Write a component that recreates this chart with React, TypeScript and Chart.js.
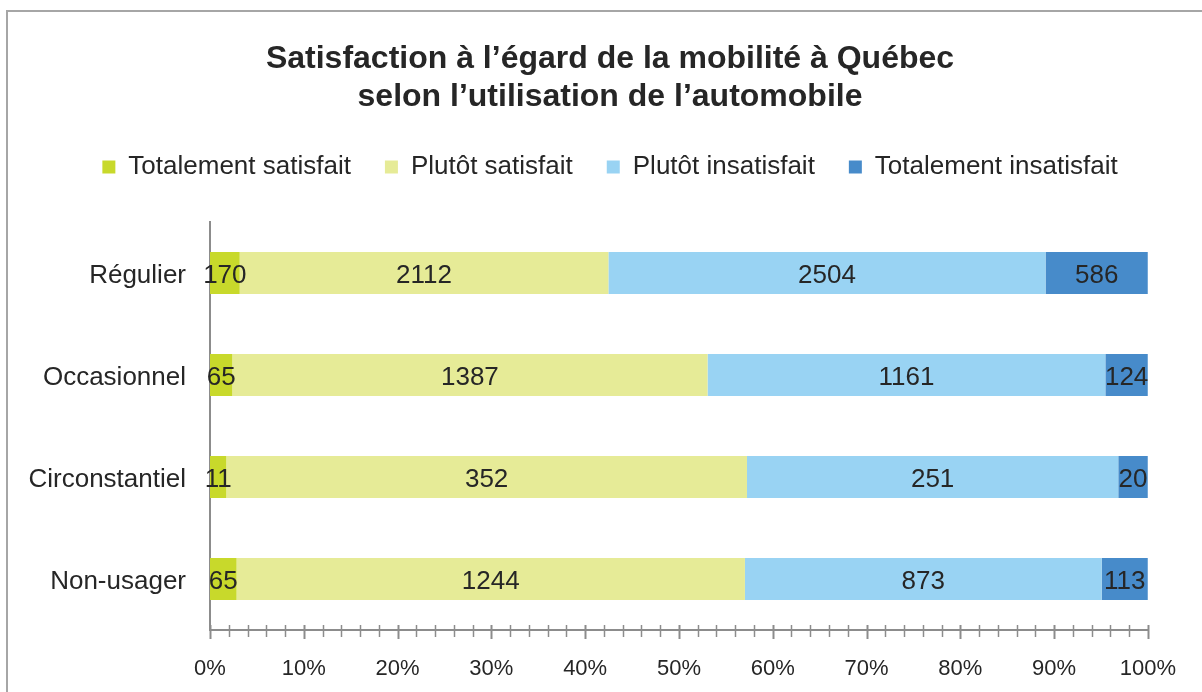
import React, { useEffect, useRef } from "react";
import { Chart, registerables } from "chart.js";

Chart.register(...registerables);

const categories = ["Régulier", "Occasionnel", "Circonstantiel", "Non-usager"];
const seriesNames = [
  "Totalement satisfait",
  "Plutôt satisfait",
  "Plutôt insatisfait",
  "Totalement insatisfait",
];
const totalementSatisfait = [170, 65, 11, 65];
const plutotSatisfait = [2112, 1387, 352, 1244];
const plutotInsatisfait = [2504, 1161, 251, 873];
const totalementInsatisfait = [586, 124, 20, 113];
const seriesColors = ["#C8D92B", "#E6EB97", "#99D3F3", "#478BCA"];
const xTickValues = [0, 10, 20, 30, 40, 50, 60, 70, 80, 90, 100];
const minorTickStep = 2;

const FONT = "'Liberation Sans', Arial, sans-serif";
const TEXT = "#262626";

const frameAndTicks = {
  id: "frameAndTicks",
  beforeDraw(chart: any) {
    const ctx = chart.ctx;
    ctx.save();
    ctx.strokeStyle = "#a6a6a6";
    ctx.lineWidth = 2;
    ctx.beginPath();
    ctx.moveTo(7, chart.height + 5);
    ctx.lineTo(7, 11);
    ctx.lineTo(chart.width + 5, 11);
    ctx.stroke();
    ctx.restore();
  },
  afterDraw(chart: any) {
    const ctx = chart.ctx;
    const sx = chart.scales.x;
    const yb = chart.chartArea.bottom;
    ctx.save();
    ctx.strokeStyle = "#8c8c8c";
    for (let v = sx.min; v <= sx.max + 1e-9; v += minorTickStep) {
      const px = Math.round(sx.getPixelForValue(v)) + 0.5;
      const major = xTickValues.includes(Math.round(v));
      ctx.lineWidth = major ? 2 : 1.5;
      ctx.beginPath();
      ctx.moveTo(px, yb - 5);
      ctx.lineTo(px, yb + (major ? 9 : 7));
      ctx.stroke();
    }
    ctx.restore();
  },
};

const dataLabels = {
  id: "dataLabels",
  afterDatasetsDraw(chart: any) {
    const ctx = chart.ctx;
    ctx.save();
    ctx.font = `26px ${FONT}`;
    ctx.fillStyle = TEXT;
    ctx.textAlign = "center";
    ctx.textBaseline = "middle";
    chart.data.datasets.forEach((ds: any, i: number) => {
      const meta = chart.getDatasetMeta(i);
      meta.data.forEach((el: any, j: number) => {
        const cx = (el.x + el.base) / 2;
        ctx.fillText(String(ds.counts[j]), cx, el.y + 3);
      });
    });
    ctx.restore();
  },
};

export default function App() {
  const ref = useRef<HTMLCanvasElement>(null);
  useEffect(() => {
    if (!ref.current) return;
    const allSeries = [
      totalementSatisfait,
      plutotSatisfait,
      plutotInsatisfait,
      totalementInsatisfait,
    ];
    const totals = categories.map((_, j) =>
      allSeries.reduce((s, arr) => s + arr[j], 0)
    );
    const chart = new Chart(ref.current, {
      type: "bar",
      data: {
        labels: categories,
        datasets: allSeries.map((arr, i) => ({
          label: seriesNames[i],
          data: arr.map((v, j) => (v / totals[j]) * 100),
          counts: arr,
          backgroundColor: seriesColors[i],
          borderWidth: 0,
          barPercentage: 0.41,
          categoryPercentage: 1,
        })) as any,
      },
      options: {
        indexAxis: "y",
        animation: false,
        responsive: false,
        layout: { padding: { left: 20, right: 2, top: 0, bottom: 0 } },
        plugins: {
          tooltip: { enabled: false },
          title: {
            display: true,
            text: [
              "Satisfaction à l’égard de la mobilité à Québec",
              "selon l’utilisation de l’automobile",
            ],
            color: TEXT,
            font: { family: FONT, size: 32, weight: "bold", lineHeight: 38 / 32 },
            padding: { top: 40, bottom: 4 },
          },
          subtitle: {
            display: true,
            text: "",
            weight: 500,
            font: { size: 1, lineHeight: 1 },
            padding: { top: 0, bottom: 31 },
          } as any,
          legend: {
            display: true,
            position: "top",
            labels: {
              boxWidth: 13,
              boxHeight: 13,
              padding: 34,
              color: TEXT,
              font: { family: FONT, size: 26 },
            },
          },
        },
        scales: {
          x: {
            type: "linear",
            stacked: true,
            min: 0,
            max: 100,
            afterFit(scale: any) {
              scale.height = 62;
            },
            afterBuildTicks(scale: any) {
              scale.ticks = xTickValues.map((v) => ({ value: v }));
            },
            ticks: {
              color: TEXT,
              padding: 26,
              font: { family: FONT, size: 22 },
              callback: (v: any) => `${v}%`,
            },
            grid: { display: false, drawTicks: false },
            border: { display: true, color: "#8c8c8c", width: 2 },
          },
          y: {
            stacked: true,
            afterFit(scale: any) {
              scale.width = 190;
            },
            ticks: {
              color: TEXT,
              padding: 24,
              labelOffset: 3,
              font: { family: FONT, size: 26 },
            },
            grid: { display: false, drawTicks: false },
            border: { display: true, color: "#8c8c8c", width: 2 },
          },
          rightSpace: {
            type: "linear",
            position: "right",
            display: true,
            afterFit(scale: any) {
              scale.width = 52;
            },
            ticks: { display: false },
            grid: { display: false, drawTicks: false },
            border: { display: false },
          } as any,
        },
      },
      plugins: [frameAndTicks, dataLabels],
    });
    return () => chart.destroy();
  }, []);
  return (
    <div style={{ position: "absolute", left: 0, top: 0, width: 1202, height: 692, background: "#fff" }}>
      <canvas ref={ref} width={1202} height={692} />
    </div>
  );
}
